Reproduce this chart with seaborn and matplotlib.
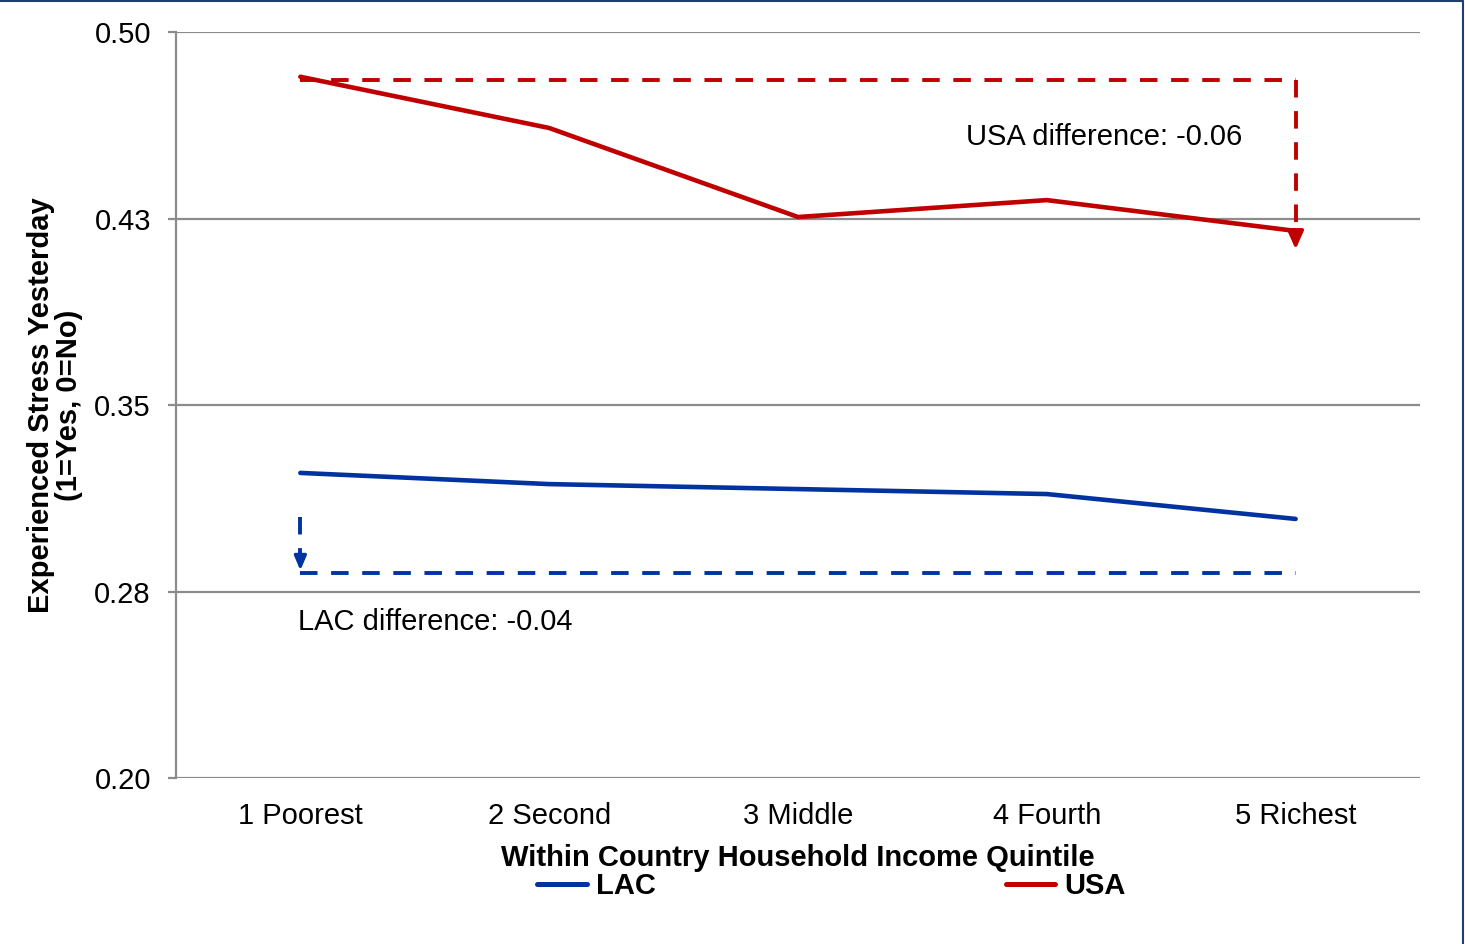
import matplotlib
matplotlib.use("Agg")
import matplotlib.pyplot as plt
from matplotlib.lines import Line2D
import numpy as np
import pandas as pd
import seaborn as sns

# Share reporting stress yesterday, by within-country income quintile
quintiles = ["1 Poorest", "2 Second", "3 Middle", "4 Fourth", "5 Richest"]
lac_values = [0.3227, 0.3182, 0.3162, 0.3142, 0.3042]
usa_values = [0.4820, 0.4614, 0.4256, 0.4324, 0.4200]
y_ticks = [0.20, 0.275, 0.35, 0.425, 0.50]
y_tick_labels = ["0.20", "0.28", "0.35", "0.43", "0.50"]

# Reference levels used for the difference brackets
usa_bracket_level = 0.4807
lac_bracket_level = 0.2824
usa_note = "USA difference: -0.06"
lac_note = "LAC difference: -0.04"

RED = "#C00000"
BLUE = "#0033A0"
GRID = "#8C8C8C"
DASH = (0, (4.5, 3.5))

sns.set_theme(style="white")
plt.rcParams["font.family"] = ["Liberation Sans", "DejaVu Sans"]
plt.rcParams["text.color"] = "black"
plt.rcParams["axes.labelcolor"] = "black"

df = pd.DataFrame({
    "Quintile": quintiles * 2,
    "Stress": lac_values + usa_values,
    "Group": ["LAC"] * len(quintiles) + ["USA"] * len(quintiles),
})

fig = plt.figure(figsize=(14.65, 9.44), dpi=100)
ax = fig.add_axes([0.1201, 0.1758, 0.8492, 0.7903])

sns.lineplot(data=df, x="Quintile", y="Stress", hue="Group",
             palette={"LAC": BLUE, "USA": RED}, linewidth=3.3,
             legend=False, ax=ax, zorder=4)

ax.set_xlim(-0.5, 4.5)
ax.set_ylim(0.20, 0.50)
ax.set_yticks(y_ticks)
ax.set_yticklabels(y_tick_labels)
ax.set_xticks(range(len(quintiles)))
ax.set_xticklabels(quintiles)

for y in y_ticks:
    ax.axhline(y, color=GRID, lw=1.6, zorder=1)

for side in ["top", "right", "bottom"]:
    ax.spines[side].set_visible(False)
ax.spines["left"].set_color(GRID)
ax.spines["left"].set_linewidth(1.6)
ax.tick_params(axis="y", which="major", left=True, length=6, width=1.6,
               color=GRID, labelsize=21, labelcolor="black", pad=12)
ax.tick_params(axis="x", bottom=False, labelsize=21, labelcolor="black", pad=11)

ax.set_xlabel("Within Country Household Income Quintile", fontsize=21,
              fontweight="bold", labelpad=10, color="black")
ax.set_ylabel("Experienced Stress Yesterday\n(1=Yes, 0=No)", fontsize=21,
              fontweight="bold", labelpad=8, linespacing=1.0, color="black")

# USA bracket: across the top, then down to the richest quintile
ax.plot([0, 4], [usa_bracket_level, usa_bracket_level], color=RED, lw=2.8,
        ls=DASH, zorder=3)
ax.plot([4, 4], [usa_bracket_level, usa_values[4] - 0.002], color=RED, lw=2.8,
        ls=DASH, zorder=3)
ax.annotate("", xy=(4, usa_values[4] - 0.0085), xytext=(4, usa_values[4]),
            arrowprops=dict(arrowstyle="-|>,head_length=0.9,head_width=0.4",
                            color=RED, lw=2.6), zorder=5)
ax.text(2.675, 0.4578, usa_note, fontsize=21, ha="left", va="center", color="black")

# LAC bracket: down from the poorest quintile, then across
ax.plot([0, 0], [0.3050, lac_bracket_level + 0.004], color=BLUE, lw=2.8,
        ls=DASH, zorder=3)
ax.annotate("", xy=(0, lac_bracket_level), xytext=(0, lac_bracket_level + 0.008),
            arrowprops=dict(arrowstyle="-|>,head_length=0.7,head_width=0.3",
                            color=BLUE, lw=2.4), zorder=5)
ax.plot([0, 4], [lac_bracket_level, lac_bracket_level], color=BLUE, lw=2.8,
        ls=DASH, zorder=3)
ax.text(-0.01, 0.2626, lac_note, fontsize=21, ha="left", va="center", color="black")

handles = [Line2D([], [], color=BLUE, lw=3.6), Line2D([], [], color=RED, lw=3.6)]
fig.legend(handles, ["LAC", "USA"], loc="center", bbox_to_anchor=(0.5675, 0.0615),
           ncol=2, frameon=False, handlelength=1.7, handletextpad=0.3,
           columnspacing=12.0, prop={"size": 21, "weight": "bold"})

# Thin navy frame along the top and right edges
fig.add_artist(Line2D([0, 0.9986], [0.9985, 0.9985], transform=fig.transFigure,
                      color="#1F3F6E", lw=1.5))
fig.add_artist(Line2D([0.9986, 0.9986], [0, 0.9985], transform=fig.transFigure,
                      color="#1F3F6E", lw=1.5))

fig.savefig("out.png", dpi=100, facecolor="white")
